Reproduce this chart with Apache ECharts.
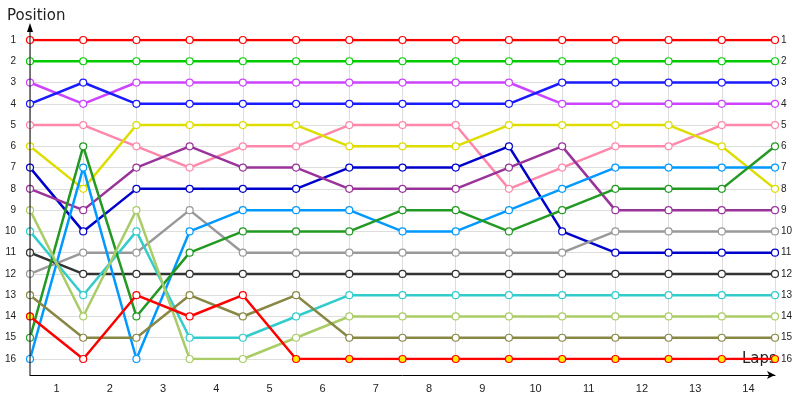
<!DOCTYPE html><html><head><meta charset="utf-8"><script src="https://cdn.jsdelivr.net/npm/echarts@6/dist/echarts.min.js"></script></head><body style="margin:0"><div id="c" style="width:800px;height:400px"></div><script>
const points=[0,1,2,3,4,5,6,7,8,9,10,11,12,13,14];
const lapLabels=['1','2','3','4','5','6','7','8','9','10','11','12','13','14'];
const posLabels=[1,2,3,4,5,6,7,8,9,10,11,12,13,14,15,16];
const sRed1=[1,1,1,1,1,1,1,1,1,1,1,1,1,1,1];
const sGreen=[2,2,2,2,2,2,2,2,2,2,2,2,2,2,2];
const sMagenta=[3,4,3,3,3,3,3,3,3,3,4,4,4,4,4];
const sBlue=[4,3,4,4,4,4,4,4,4,4,3,3,3,3,3];
const sPink=[5,5,6,7,6,6,5,5,5,8,7,6,6,5,5];
const sYellow=[6,8,5,5,5,5,6,6,6,5,5,5,5,6,8];
const sNavy=[7,10,8,8,8,8,7,7,7,6,10,11,11,11,11];
const sPurple=[8,9,7,6,7,7,8,8,8,7,6,9,9,9,9];
const sLgray=[12,11,11,9,11,11,11,11,11,11,11,10,10,10,10];
const sDark=[11,12,12,12,12,12,12,12,12,12,12,12,12,12,12];
const sLblue=[16,7,16,10,9,9,9,10,10,9,8,7,7,7,7];
const sCyan=[10,13,10,15,15,14,13,13,13,13,13,13,13,13,13];
const sDgreen=[15,6,14,11,10,10,10,9,9,10,9,8,8,8,6];
const sYgreen=[9,14,9,16,16,15,14,14,14,14,14,14,14,14,14];
const sOlive=[13,15,15,13,14,13,15,15,15,15,15,15,15,15,15];
const sRed2=[14,16,13,14,13,16,16,16,16,16,16,16,16,16,16];
const defs=[[sRed1,'#ff0000'],[sGreen,'#00cc00'],[sMagenta,'#cc44ff'],[sBlue,'#1a1aff'],[sPink,'#ff88aa'],[sYellow,'#dddd00'],[sNavy,'#0000cc'],[sPurple,'#993399'],[sLgray,'#999999'],[sDark,'#333333'],[sLblue,'#0099ff'],[sCyan,'#33cccc'],[sDgreen,'#229922'],[sYgreen,'#aacc66'],[sOlive,'#888844'],[sRed2,'#ff0000']];
const series=defs.map(([d,c],k)=>({type:'line',xAxisIndex:0,data:d.map((v,i)=>{const o={value:[points[i],v]};if(k===15&&(i===0||i>=5))o.itemStyle={color:'#ffee00',borderColor:c};return o;}),symbol:'circle',symbolSize:7,lineStyle:{color:c,width:2.5},itemStyle:{color:'#fff',borderColor:c,borderWidth:1.2},z:2+k}));
const ch=echarts.init(document.getElementById('c'));
ch.setOption({animation:false,
grid:{left:30,right:25,top:40,bottom:41},
title:{text:'Position',left:2,top:4,textStyle:{fontFamily:'DejaVu Sans',fontSize:15,fontWeight:'normal',color:'#222'}},
graphic:[{type:'text',left:742,top:352,style:{text:'Laps',font:'15px DejaVu Sans',fill:'#222'}},
{type:'line',shape:{x1:30,y1:375,x2:30,y2:26},style:{stroke:'#000',lineWidth:1},z:50},
{type:'polygon',shape:{points:[[27,32],[30,23],[33,32]]},style:{fill:'#000'},z:50}],
xAxis:[{type:'value',min:0,max:14,interval:1,axisLabel:{show:false},axisTick:{show:false},axisLine:{show:true,onZero:false,lineStyle:{color:'#000'},symbol:['none','arrow'],symbolSize:[6,8]},offset:16,splitLine:{show:true,lineStyle:{color:'#ddd'}}},
{type:'category',data:lapLabels,boundaryGap:true,position:'bottom',offset:16,axisLine:{show:false},axisTick:{show:false},axisLabel:{fontSize:11,color:'#222',margin:8}}],
yAxis:[{type:'value',inverse:true,min:1,max:16,interval:1,axisLabel:{fontSize:10,color:'#222',margin:14},axisTick:{show:false},axisLine:{show:false},splitLine:{show:true,lineStyle:{color:'#ddd'}}},
{type:'value',inverse:true,min:1,max:16,interval:1,position:'right',axisLabel:{fontSize:10,color:'#222',margin:6},axisTick:{show:false},axisLine:{show:false},splitLine:{show:false}}],
series:series.concat([{type:'line',yAxisIndex:1,data:[],silent:true}])
});
</script></body></html>
